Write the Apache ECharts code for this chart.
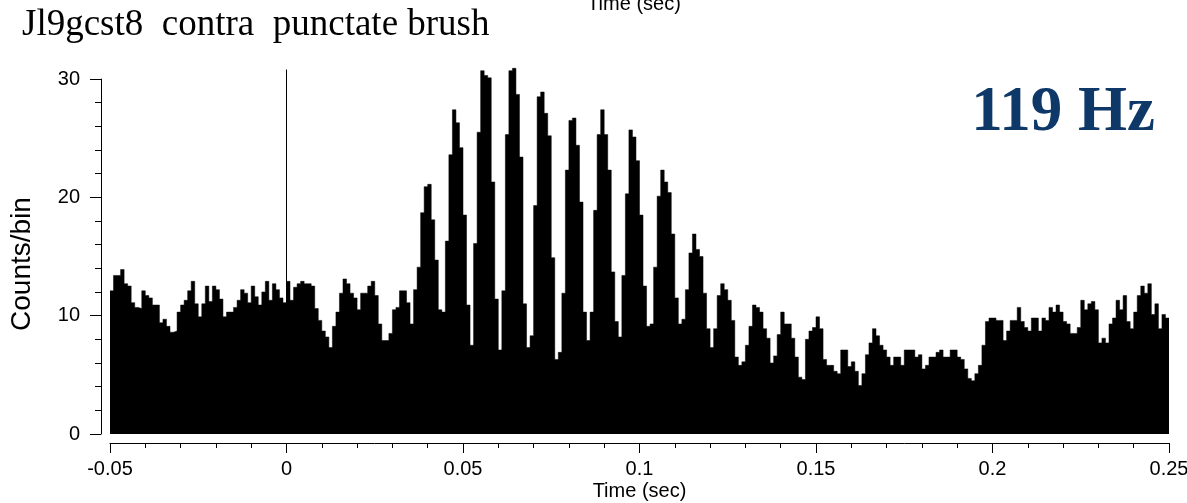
<!DOCTYPE html>
<html>
<head>
<meta charset="utf-8">
<script src="https://cdn.jsdelivr.net/npm/echarts@6/dist/echarts.min.js"></script>
<style>
  html, body { margin: 0; padding: 0; background: #fff; }
  #chart { width: 1187px; height: 503px; }
</style>
</head>
<body>
<div id="chart"></div>
<script>
// PSTH, 1 ms bins from -0.05 to 0.25 s
var binStart = -0.05
var binWidth = 0.001
var counts = [
  12.1, 13.4, 13.4, 13.9, 12.7, 12.5, 11.1, 10.7, 10.6, 12.1,
  11.7, 11.5, 10.9, 10.9, 9.4, 9.7, 9.1, 8.6, 8.7, 10.3,
  10.9, 11.3, 12.1, 12.9, 11.0, 9.9, 11.0, 12.5, 11.2, 12.5,
  12.2, 11.4, 9.9, 10.3, 10.3, 10.7, 11.3, 12.2, 11.9, 11.1,
  12.5, 11.6, 10.9, 12.0, 12.9, 11.3, 12.7, 12.2, 11.5, 11.1,
  12.9, 11.3, 12.4, 12.7, 12.9, 12.7, 12.7, 12.5, 10.6, 9.6,
  8.7, 8.2, 7.3, 9.1, 10.3, 11.9, 13.1, 12.7, 11.9, 11.5,
  10.5, 11.9, 11.9, 12.5, 12.9, 11.7, 9.3, 7.9, 7.9, 8.5,
  10.5, 10.7, 12.1, 12.1, 11.1, 9.3, 12.2, 14.1, 18.7, 20.9,
  21.1, 18.1, 14.7, 10.5, 10.3, 16.3, 23.6, 27.4, 26.3, 24.2,
  18.5, 10.9, 7.5, 16.1, 25.5, 30.7, 30.3, 30.1, 21.3, 11.4,
  7.1, 12.1, 25.3, 30.7, 30.9, 28.7, 23.4, 11.0, 7.3, 8.3,
  19.3, 28.5, 28.9, 27.1, 25.2, 14.9, 6.3, 6.9, 11.9, 22.3,
  26.5, 26.7, 24.4, 19.6, 10.3, 7.9, 10.3, 18.9, 25.3, 27.4,
  25.3, 22.3, 13.7, 9.5, 8.2, 13.4, 20.3, 25.7, 25.1, 23.1,
  18.5, 12.5, 9.1, 9.3, 14.1, 20.1, 22.3, 21.3, 20.4, 16.9,
  11.5, 9.3, 9.7, 12.2, 15.3, 16.9, 15.6, 15.0, 11.9, 8.9,
  7.3, 8.9, 11.7, 12.7, 12.2, 11.3, 9.6, 6.5, 5.8, 6.1,
  7.5, 9.1, 10.9, 10.7, 10.3, 8.9, 8.1, 6.0, 6.6, 8.4,
  10.3, 9.3, 9.3, 8.1, 6.5, 4.8, 4.6, 8.0, 8.7, 9.0,
  9.9, 8.9, 6.3, 5.8, 5.8, 5.3, 5.1, 7.1, 7.1, 5.7,
  6.1, 5.3, 4.1, 5.1, 6.7, 7.7, 8.9, 8.3, 7.5, 7.1,
  6.5, 5.8, 6.5, 6.5, 5.8, 7.1, 7.1, 7.1, 6.5, 6.7,
  5.5, 5.8, 6.5, 6.5, 6.9, 7.1, 6.5, 6.5, 7.1, 7.1,
  6.5, 6.3, 5.5, 4.7, 4.5, 5.1, 5.8, 7.5, 9.5, 9.8,
  9.8, 9.6, 9.6, 7.9, 8.7, 9.6, 9.6, 10.7, 9.5, 9.0,
  8.7, 9.8, 9.8, 8.7, 9.8, 9.6, 10.7, 10.3, 10.9, 10.3,
  9.5, 9.3, 8.5, 8.5, 9.0, 11.3, 10.5, 11.0, 11.2, 10.5,
  7.7, 8.1, 7.7, 9.3, 9.8, 11.3, 10.5, 11.7, 9.5, 8.9,
  10.3, 11.7, 12.5, 11.9, 12.7, 10.1, 11.0, 8.9, 10.1, 9.8
]
// stimulus onset marker (time, top of line)
var stimTime = 0
var stimTop = 30.8

// histogram outline: each bin's value held from its left edge to the next edge
var histData = counts.map(function (v, i) {
    return [binStart + i * binWidth, v]
})
histData.push([binStart + counts.length * binWidth, counts[counts.length - 1]])

var axisFont = 'Liberation Sans, Arial, sans-serif'

var myChart = echarts.init(document.getElementById('chart'))
var option = {
    backgroundColor: '#fff',
    animation: false,
    grid: {
        left: 110,
        right: 18,
        top: 79,
        bottom: 69,
        containLabel: false,
        outerBoundsMode: 'none'
    },
    xAxis: {
        type: 'value',
        min: -0.05,
        max: 0.25,
        interval: 0.05,
        position: 'bottom',
        offset: 9,
        name: 'Time (sec)',
        nameLocation: 'middle',
        nameGap: 38,
        nameMoveOverlap: false,
        nameTextStyle: { color: '#000', fontSize: 20, fontFamily: axisFont },
        axisLine: { show: true, onZero: false, lineStyle: { color: '#000', width: 1 } },
        axisTick: { show: true, length: 10, lineStyle: { color: '#000' } },
        minorTick: { show: true, splitNumber: 5, length: 5, lineStyle: { color: '#000' } },
        splitLine: { show: false },
        axisLabel: { color: '#000', fontSize: 20, fontFamily: axisFont, margin: 16 }
    },
    yAxis: {
        type: 'value',
        min: 0,
        max: 30,
        interval: 10,
        offset: 9,
        axisLine: { show: true, onZero: false, lineStyle: { color: '#000', width: 1 } },
        axisTick: { show: true, length: 11, lineStyle: { color: '#000' } },
        minorTick: { show: true, splitNumber: 5, length: 6, lineStyle: { color: '#000' } },
        splitLine: { show: false },
        axisLabel: { color: '#000', fontSize: 20, fontFamily: axisFont, margin: 21 }
    },
    series: [
        {
            type: 'line',
            data: histData,
            step: 'end',
            clip: false,
            symbol: 'none',
            lineStyle: { color: '#000', width: 0.5 },
            areaStyle: { color: '#000', opacity: 1 }
        },
        {
            type: 'line',
            data: [[stimTime, 0], [stimTime, stimTop]],
            clip: false,
            symbol: 'none',
            lineStyle: { color: '#000', width: 1 },
            z: 3
        }
    ],
    graphic: [
        {
            type: 'text',
            left: 22,
            top: 7,
            style: {
                text: 'Jl9gcst8  contra  punctate brush',
                font: '37px "Liberation Serif", "Times New Roman", serif',
                fill: '#000'
            }
        },
        {
            type: 'text',
            x: 634,
            y: 4,
            style: {
                text: 'Time (sec)',
                font: '20px "Liberation Sans", Arial, sans-serif',
                fill: '#000',
                textAlign: 'center',
                textVerticalAlign: 'middle'
            }
        },
        {
            type: 'text',
            x: 1155,
            y: 114,
            style: {
                text: '119 Hz',
                font: 'bold 63px "Liberation Serif", "Times New Roman", serif',
                fill: '#0e3868',
                textAlign: 'right',
                textVerticalAlign: 'middle'
            }
        },
        {
            type: 'text',
            x: 22,
            y: 264,
            rotation: Math.PI / 2,
            style: {
                text: 'Counts/bin',
                font: '28px "Liberation Sans", Arial, sans-serif',
                fill: '#000',
                textAlign: 'center',
                textVerticalAlign: 'middle'
            }
        }
    ]
}
myChart.setOption(option)
</script>
</body>
</html>
